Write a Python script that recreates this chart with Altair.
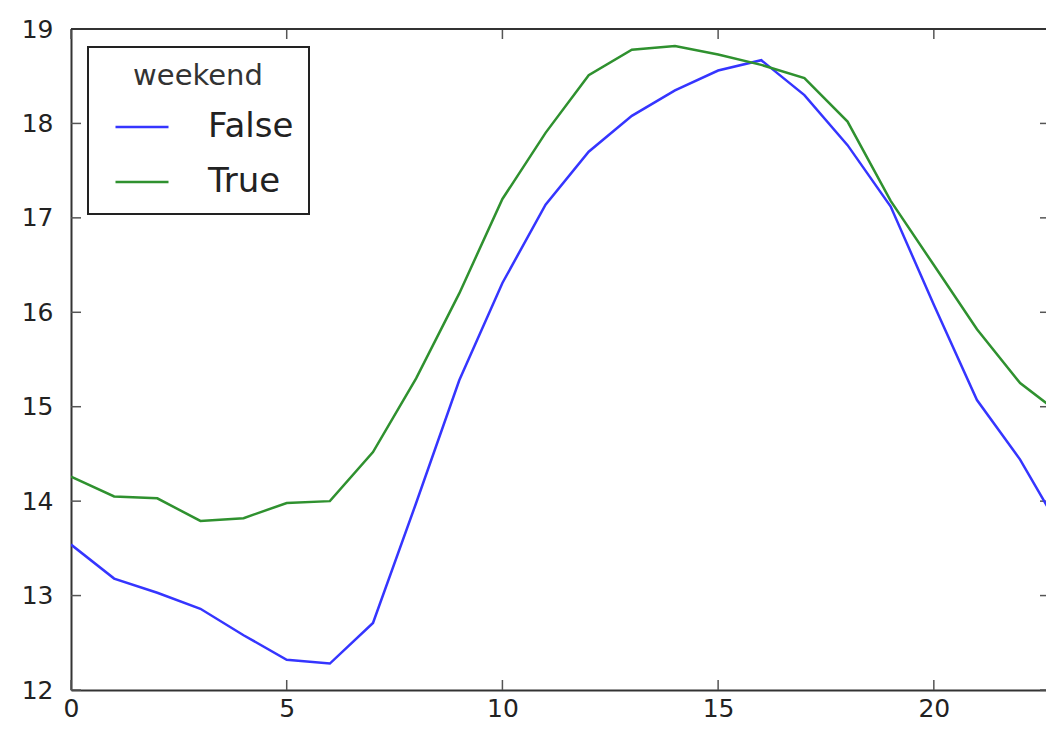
import altair as alt
import pandas as pd

# ---- data ----
hours = list(range(24))
weekday_vals = [13.54, 13.18, 13.03, 12.86, 12.58, 12.32, 12.28, 12.71, 13.98, 15.28,
                16.31, 17.14, 17.70, 18.08, 18.35, 18.56, 18.67, 18.30, 17.77, 17.12,
                16.08, 15.07, 14.44, 13.65]
weekend_vals = [14.26, 14.05, 14.03, 13.79, 13.82, 13.98, 14.00, 14.52, 15.30, 16.20,
                17.20, 17.90, 18.51, 18.78, 18.82, 18.73, 18.62, 18.48, 18.02, 17.18,
                16.50, 15.82, 15.25, 14.90]
series = ["False", "True"]
x_ticks = [0, 5, 10, 15, 20]
y_ticks = [12, 13, 14, 15, 16, 17, 18, 19]

rows = []
for h, v in zip(hours, weekday_vals):
    rows.append({"hour": h, "value": v, "weekend": series[0]})
for h, v in zip(hours, weekend_vals):
    rows.append({"hour": h, "value": v, "weekend": series[1]})
df = pd.DataFrame(rows)
xt = pd.DataFrame({"v": x_ticks})
yt = pd.DataFrame({"v": y_ticks})

W, H = 975, 661
TICK = 10
FONT = "DejaVu Sans"
SPINE = "#333333"
TICKC = "#555555"

xs = alt.Scale(domain=[0, 22.6], nice=False, zero=False)
ys = alt.Scale(domain=[12, 19], nice=False, zero=False)
x_axis = alt.Axis(values=x_ticks, title=None, grid=False, ticks=False, tickSize=0,
                  labelPadding=6, labelFontSize=25, labelColor="#222222", labelFont=FONT,
                  labelFlush=False, domainColor=SPINE, domainWidth=2)
y_axis = alt.Axis(values=y_ticks, title=None, grid=False, ticks=False, tickSize=0,
                  labelPadding=18, labelFontSize=25, labelColor="#222222", labelFont=FONT,
                  domainColor=SPINE, domainWidth=2)

lines = alt.Chart(df).mark_line(clip=True, strokeWidth=2.5).encode(
    x=alt.X("hour:Q", scale=xs, axis=x_axis),
    y=alt.Y("value:Q", scale=ys, axis=y_axis),
    color=alt.Color(
        "weekend:N",
        scale=alt.Scale(domain=series, range=["#3535ff", "#2f912f"]),
        legend=alt.Legend(
            title="weekend", orient="none", legendX=17, legendY=18,
            titleAnchor="middle", titleFontSize=29, titleFontWeight="normal",
            titleFont=FONT, titleColor="#333333", titlePadding=8,
            labelFontSize=34, labelFont=FONT, labelColor="#222222",
            symbolType="stroke", symbolSize=2809, symbolStrokeWidth=2.5,
            symbolOffset=11, labelOffset=38, padding=15, rowPadding=10,
            strokeColor="#222222", fillColor="white",
        ),
    ),
)

top_ticks = alt.Chart(xt).mark_rule(color=TICKC, strokeWidth=1.5).encode(
    x=alt.X("v:Q", scale=xs, axis=x_axis), y=alt.value(0), y2=alt.value(TICK))
bottom_ticks = alt.Chart(xt).mark_rule(color=TICKC, strokeWidth=1.5).encode(
    x=alt.X("v:Q", scale=xs, axis=x_axis), y=alt.value(H), y2=alt.value(H - TICK))
left_ticks = alt.Chart(yt).mark_rule(color=TICKC, strokeWidth=1.5).encode(
    y=alt.Y("v:Q", scale=ys, axis=y_axis), x=alt.value(0), x2=alt.value(TICK))
right_ticks = alt.Chart(yt).mark_rule(color=TICKC, strokeWidth=1.5).encode(
    y=alt.Y("v:Q", scale=ys, axis=y_axis), x=alt.value(W + 4), x2=alt.value(W + 4 - TICK))
top_border = alt.Chart(xt).mark_rule(color=SPINE, strokeWidth=2).encode(
    x=alt.value(0), x2=alt.value(W), y=alt.value(0))

chart = alt.layer(
    top_ticks, bottom_ticks, left_ticks, right_ticks, top_border, lines
).properties(
    width=W, height=H,
    padding={"left": 63, "top": 21, "right": 0, "bottom": 33},
    autosize=alt.AutoSizeParams(type="none"),
).configure_view(stroke=None).configure_legend(strokeWidth=2)

chart.save("out.html", embed_options={"renderer": "svg", "actions": False})
